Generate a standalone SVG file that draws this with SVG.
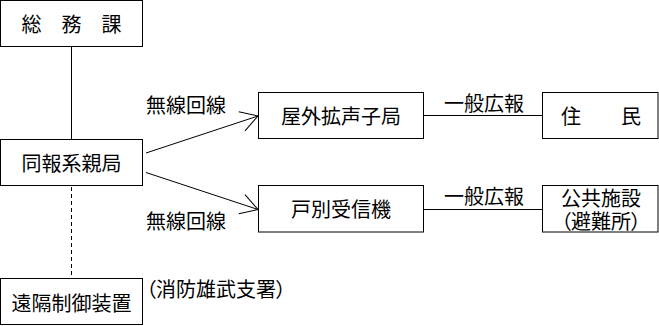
<svg xmlns="http://www.w3.org/2000/svg" width="659" height="326" viewBox="0 0 659 326">
<style>
.box{fill:#fff;stroke:#000;stroke-width:1}
.ln{fill:none;stroke:#000;stroke-width:1}
text{font-family:"Noto Sans CJK JP","Noto Sans CJK SC",sans-serif;font-size:20px;fill:#000}
.c{text-anchor:middle}
.p{font-feature-settings:"palt"}
</style>
<defs>
<marker id="arr" markerUnits="userSpaceOnUse" markerWidth="24" markerHeight="24" viewBox="-20 -12 22 24" refX="0" refY="0" orient="auto" overflow="visible">
<path d="M-17,-10 L0,0 L-17,10" fill="none" stroke="#000" stroke-width="1"/>
</marker>
</defs>
<rect width="659" height="326" fill="#fff"/>
<g id="connectors">
<line class="ln" x1="71.5" y1="46.5" x2="71.5" y2="139.5"/>
<line class="ln" x1="71.5" y1="187" x2="71.5" y2="277" stroke-dasharray="4,3"/>
<line class="ln" x1="146" y1="153" x2="258" y2="116" marker-end="url(#arr)"/>
<line class="ln" x1="146" y1="172.5" x2="258" y2="209.5" marker-end="url(#arr)"/>
<line class="ln" x1="423.5" y1="115.5" x2="542.5" y2="115.5"/>
<line class="ln" x1="423.5" y1="209.5" x2="542.5" y2="209.5"/>
<text x="146" y="113">無線回線</text>
<text x="146" y="229">無線回線</text>
<text class="c" x="484" y="111">一般広報</text>
<text class="c" x="484" y="204">一般広報</text>
</g>
<g id="somuka">
<rect class="box" x="0.5" y="0.5" width="142" height="46"/>
<text class="c" x="71.5" y="32">総　務　課</text>
</g>
<g id="oyakyoku">
<rect class="box" x="0.5" y="139.5" width="142" height="46"/>
<text class="c" x="71.5" y="171">同報系親局</text>
</g>
<g id="enkaku">
<rect class="box" x="0.5" y="278.5" width="142" height="46"/>
<text class="c" x="71.5" y="311">遠隔制御装置</text>
</g>
<g id="shosho">
<text class="p" x="146" y="297">（消防雄武支署）</text>
</g>
<g id="kakusei">
<rect class="box" x="258.5" y="92.5" width="165" height="46"/>
<text class="c" x="341" y="124">屋外拡声子局</text>
</g>
<g id="kobetsu">
<rect class="box" x="258.5" y="185.5" width="165" height="46.5"/>
<text class="c" x="341" y="217">戸別受信機</text>
</g>
<g id="jumin">
<rect class="box" x="542.5" y="92.5" width="115.5" height="46"/>
<text class="c" x="601" y="124">住　　民</text>
</g>
<g id="kokyo">
<rect class="box" x="542.5" y="185.5" width="115.5" height="46.5"/>
<text class="c" x="601" y="206">公共施設</text>
<text class="c p" x="601" y="229">（避難所）</text>
</g>
</svg>
